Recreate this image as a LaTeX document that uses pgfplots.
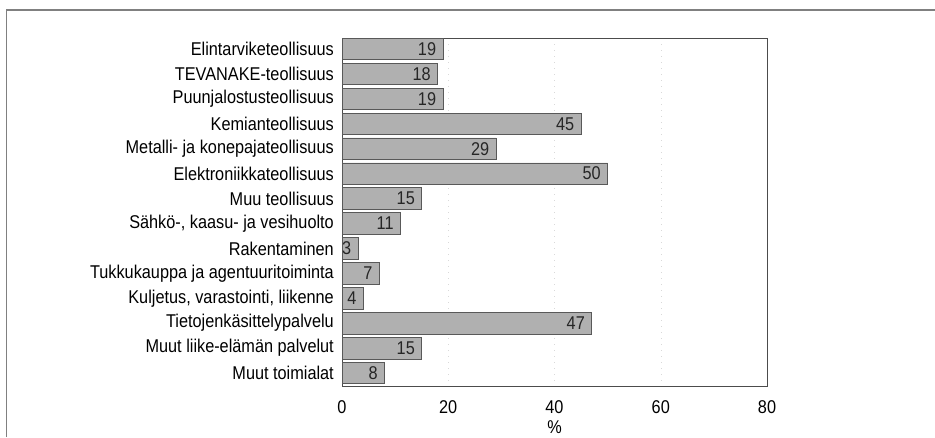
\documentclass[border=0pt]{standalone}
\usepackage{pgfplots}
\pgfplotsset{compat=1.18}
\usepackage{fontspec}
\setmainfont{Liberation Sans}[FakeStretch=0.88]
\begin{document}
\fontsize{18.5pt}{21pt}\selectfont
\begin{tikzpicture}
\useasboundingbox (0pt,0pt) rectangle (935pt,437pt);
\draw[gray, line width=1.5pt] (6.5pt,0pt) -- (6.5pt,427pt) -- (935pt,427pt);
\begin{axis}[at={(342pt,51pt)}, anchor=south west, scale only axis,
  width=425pt, height=348pt,
  xbar, bar width=21.5pt,
  xmin=0, xmax=80, ymin=-0.44, ymax=13.52, y dir=reverse,
  ytick={0,...,13},
  yticklabels={Elintarviketeollisuus, TEVANAKE-teollisuus, Puunjalostusteollisuus, Kemianteollisuus\hspace{5pt}, Metalli- ja konepajateollisuus, Elektroniikkateollisuus, Muu teollisuus, {Sähkö-, kaasu- ja vesihuolto}, Rakentaminen, Tukkukauppa ja agentuuritoiminta, {Kuljetus, varastointi, liikenne}, Tietojenkäsittelypalvelu, Muut liike-elämän palvelut, Muut toimialat},
  xtick={0,20,40,60,80},
  major tick length=0pt,
  /pgf/number format/assume math mode=true,
  xticklabel style={inner sep=0pt, yshift=-14pt},
  yticklabel style={inner sep=0pt, xshift=-8pt},
  xmajorgrids, grid style={gray!30, dash pattern=on 1pt off 5pt},
  axis line style={black!70, line width=0.8pt},
  xlabel={\%},
  xlabel style={at={(axis description cs:0.5,0)}, anchor=north, inner sep=0pt, yshift=-34pt},
  nodes near coords,
  every node near coord/.append style={anchor=east, xshift=-6.5pt, inner sep=0pt, text=black!85},
]
\addplot[fill=gray!62, draw=black!65, line width=0.7pt] coordinates {
(19,0) (18,1) (19,2) (45,3) (29,4) (50,5) (15,6) (11,7) (3,8) (7,9) (4,10) (47,11) (15,12) (8,13)};
\end{axis}
\end{tikzpicture}
\end{document}
